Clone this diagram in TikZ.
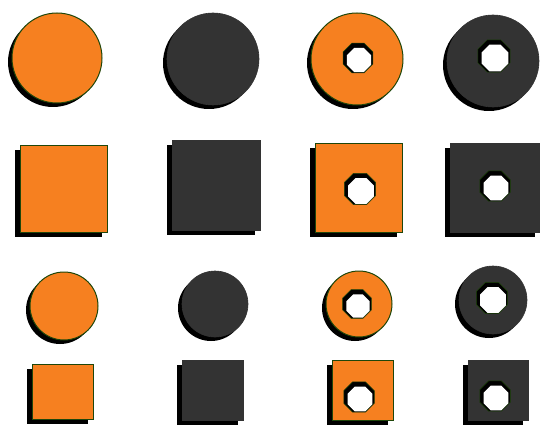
\documentclass[tikz,border=0pt]{standalone}
\usetikzlibrary{shapes.geometric}
\definecolor{org}{RGB}{246,128,32}
\definecolor{drk}{RGB}{51,51,51}
\definecolor{grn}{RGB}{30,70,10}
\newcommand\rcirc[4]{%
  \fill[black] (#1-4,#2+4) circle (#3);
  \path[#4] (#1,#2) circle (#3);}
\newcommand\rsq[5]{%
  \fill[black] (#1-5,#2+5) rectangle (#3-5,#4+5);
  \path[#5] (#1,#2) rectangle (#3,#4);}
\newcommand\rhole[4]{%
  \node[holeshade,minimum size={2*(#4+3)}] (#1s) at (#2-1,#3-1) {};
  \node[holewhite,minimum size={2*#4}] (#1) at (#2,#3+1) {};}
\begin{document}
\begin{tikzpicture}[x=1pt,y=-1pt,
  orangefill/.style={fill=org,draw=grn,line width=1pt},
  darkfill/.style={fill=drk,draw=black!80,line width=0.6pt},
  holeshade/.style={regular polygon,regular polygon sides=8,fill=black,draw=grn,line width=0.5pt,inner sep=0pt},
  holewhite/.style={regular polygon,regular polygon sides=8,fill=white,inner sep=0pt}]
\useasboundingbox[fill=white] (0,0) rectangle (540,425);
% row 1: large circles
\rcirc{57}{58}{45}{orangefill}
\rcirc{213}{59}{46}{darkfill}
\rcirc{357}{59}{46}{orangefill}
\rhole{h1}{359}{59}{13}
\rcirc{493}{61}{46}{darkfill}
\rhole{h2}{495}{57}{14.5}
% row 2: large squares
\rsq{20}{145}{107}{232}{orangefill}
\rsq{172}{140}{260}{230}{darkfill}
\rsq{315}{143}{402}{232}{orangefill}
\rhole{h3}{361}{190}{14}
\rsq{450}{143}{540}{232}{darkfill}
\rhole{h4}{496}{187}{13.5}
% row 3: small circles
\rcirc{64}{306}{34}{orangefill}
\rcirc{215}{304}{33}{darkfill}
\rcirc{359}{304}{33}{orangefill}
\rhole{h5}{358}{305}{12.5}
\rcirc{493}{300}{34}{darkfill}
\rhole{h6}{493}{299}{14}
% row 4: small squares
\rsq{32}{364}{93}{419}{orangefill}
\rsq{182}{360}{243}{420}{darkfill}
\rsq{332}{360}{393}{420}{orangefill}
\rhole{h7}{360}{398}{13.5}
\rsq{468}{360}{528}{420}{darkfill}
\rhole{h8}{496}{397}{13.5}
\end{tikzpicture}
\end{document}
